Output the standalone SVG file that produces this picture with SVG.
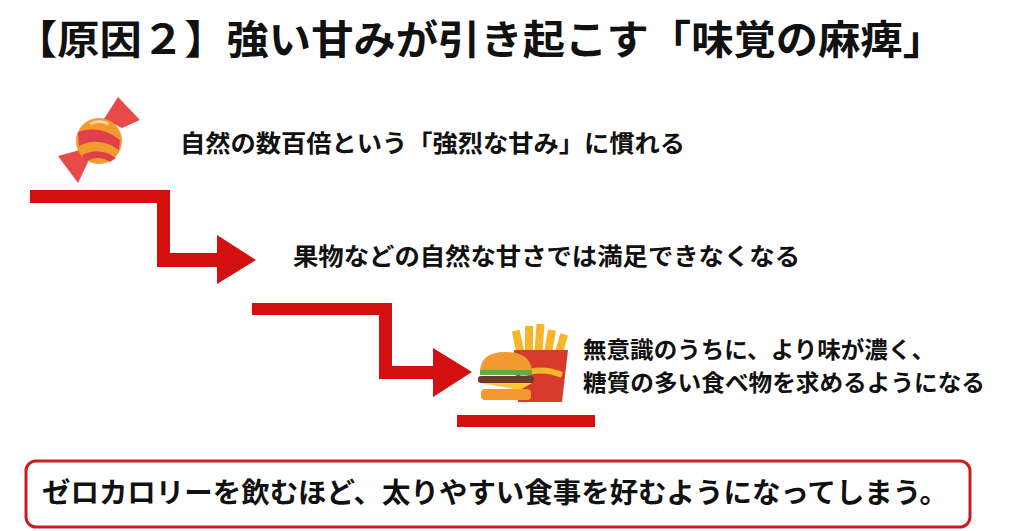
<svg xmlns="http://www.w3.org/2000/svg" width="1024" height="531" viewBox="0 0 1024 531">
<style>
text{font-family:"Noto Sans CJK JP","Noto Sans CJK SC",sans-serif;font-weight:bold;fill:#111}
.ar{fill:#d40f0f}
</style>
<rect width="1024" height="531" fill="#fff"/>
<text x="15" y="54" font-size="40" font-weight="900" textLength="930" lengthAdjust="spacingAndGlyphs">【原因２】強い甘みが引き起こす「味覚の麻痺」</text>
<g id="candy">
<path d="M104 119 L118 97 L140 120 L122 128 Z" fill="#e84a4a"/>
<path d="M80 150 L58 156 L78 183 L88 162 Z" fill="#e84a4a"/>
<circle cx="99" cy="141" r="23" fill="#f29a2e"/>
<path d="M78 132 Q99 124 120 140 L119 150 Q99 136 79 146 Z" fill="#e0404a"/>
<path d="M82 155 Q100 146 116 158 L110 162 Q98 154 86 162 Z" fill="#e0404a"/>
<path d="M90 124 Q100 119 108 124" stroke="#ffd0b0" stroke-width="3" fill="none"/>
</g>
<g id="food">
<g fill="#f6b52a">
<rect x="515" y="330" width="8" height="32" transform="rotate(-12 520 346)"/>
<rect x="525" y="326" width="8" height="36"/>
<rect x="535" y="324" width="8" height="38" transform="rotate(4 540 345)"/>
<rect x="545" y="330" width="8" height="32" transform="rotate(10 550 347)"/>
<rect x="556" y="334" width="8" height="28" transform="rotate(16 561 349)"/>
</g>
<path d="M514 350 L568 350 L562 402 L518 402 Z" fill="#d63a2a"/>
<path d="M520 375 Q541 366 562 375" stroke="#f6b52a" stroke-width="6" fill="none"/>
<path d="M480 370 Q482 352 505 352 Q530 352 532 370 Z" fill="#f29a2e"/>
<rect x="480" y="370" width="52" height="5" fill="#6aa84f"/>
<rect x="478" y="376" width="56" height="7" rx="3" fill="#6b3a2a"/>
<path d="M480 383 L532 383 L520 390 Z" fill="#ffc832"/>
<rect x="481" y="389" width="50" height="11" rx="4" fill="#f29a2e"/>
</g>
<g id="connectors">
<path class="ar" d="M30 190 H170 V253 H217 V235 L256 260 L217 284 V267 H157 V203 H30 Z"/>
<path class="ar" d="M252 303 H392 V366 H433 V348 L472 372 L433 397 V379 H379 V315 H252 Z"/>
<rect class="ar" x="457" y="415" width="138" height="12"/>
</g>
<g id="step1"><text x="180" y="152" font-size="24" textLength="505" lengthAdjust="spacingAndGlyphs">自然の数百倍という「強烈な甘み」に慣れる</text></g>
<g id="step2"><text x="293" y="265" font-size="24" textLength="507" lengthAdjust="spacingAndGlyphs">果物などの自然な甘さでは満足できなくなる</text></g>
<g id="step3">
<text x="583" y="358" font-size="23" textLength="352" lengthAdjust="spacingAndGlyphs">無意識のうちに、より味が濃く、</text>
<text x="583" y="391" font-size="23" textLength="402" lengthAdjust="spacingAndGlyphs">糖質の多い食べ物を求めるようになる</text>
</g>
<g id="summary">
<rect x="26" y="461" width="944" height="66" rx="10" fill="#fff" stroke="#c81e1e" stroke-width="3"/>
<text x="42" y="503" font-size="28" textLength="906" lengthAdjust="spacingAndGlyphs">ゼロカロリーを飲むほど、太りやすい食事を好むようになってしまう。</text>
</g>
</svg>
